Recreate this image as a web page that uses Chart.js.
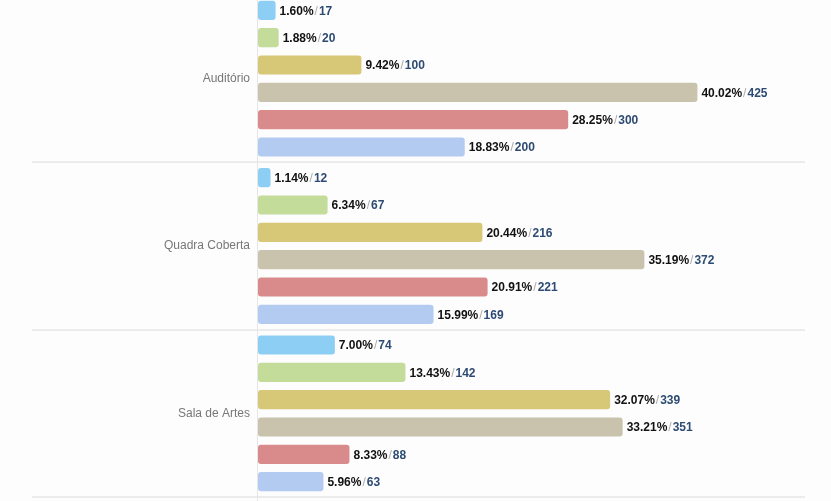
<!DOCTYPE html>
<html>
<head>
<meta charset="utf-8">
<script src="https://cdn.jsdelivr.net/npm/chart.js@4"></script>
<style>
  html, body { margin: 0; padding: 0; background: #fdfdfd; overflow: hidden; }
  .wrap { position: relative; width: 831px; height: 512px; margin-top: -5px; }
</style>
</head>
<body>
<div class="wrap"><canvas id="chart"></canvas></div>
<script>
const categories = ['Auditório', 'Quadra Coberta', 'Sala de Artes'];
const seriesNames = ['Série 1', 'Série 2', 'Série 3', 'Série 4', 'Série 5', 'Série 6'];
const colors = ['#8dcff4', '#c3dc99', '#d7c878', '#c9c3ae', '#d98b8b', '#b4cbf1'];

// percent per category, one array per series
const pct1 = [1.60, 1.14, 7.00];
const pct2 = [1.88, 6.34, 13.43];
const pct3 = [9.42, 20.44, 32.07];
const pct4 = [40.02, 35.19, 33.21];
const pct5 = [28.25, 20.91, 8.33];
const pct6 = [18.83, 15.99, 5.96];

// counts shown after the slash
const cnt1 = [17, 12, 74];
const cnt2 = [20, 67, 142];
const cnt3 = [100, 216, 339];
const cnt4 = [425, 372, 351];
const cnt5 = [300, 221, 88];
const cnt6 = [200, 169, 63];

const xMax = 50;

const pcts = [pct1, pct2, pct3, pct4, pct5, pct6];
const counts = [cnt1, cnt2, cnt3, cnt4, cnt5, cnt6];

// draws "xx.xx% / n" at the end of each bar
const valueLabels = {
  id: 'valueLabels',
  afterDatasetsDraw(chart) {
    const ctx = chart.ctx;
    ctx.save();
    ctx.font = 'bold 12px "Liberation Sans", Arial, sans-serif';
    ctx.textBaseline = 'middle';
    chart.data.datasets.forEach((ds, i) => {
      chart.getDatasetMeta(i).data.forEach((bar, j) => {
        let x = bar.x + 4;
        const y = bar.y + 1;
        const p = pcts[i][j].toFixed(2) + '%';
        ctx.fillStyle = '#111';
        ctx.fillText(p, x, y);
        x += ctx.measureText(p).width + 1;
        ctx.font = '12px "Liberation Sans", Arial, sans-serif';
        ctx.fillStyle = '#aaa';
        ctx.fillText('/', x, y);
        x += ctx.measureText('/').width + 1;
        ctx.font = 'bold 12px "Liberation Sans", Arial, sans-serif';
        ctx.fillStyle = '#2d4b72';
        ctx.fillText(String(counts[i][j]), x, y);
      });
    });
    ctx.restore();
  }
};

// category separators run from the far left to the right edge of the plot
const separators = {
  id: 'separators',
  beforeDatasetsDraw(chart) {
    const ctx = chart.ctx;
    const yScale = chart.scales.y;
    const area = chart.chartArea;
    ctx.save();
    ctx.strokeStyle = '#ececec';
    ctx.lineWidth = 2;
    for (let k = 0; k <= categories.length; k++) {
      const y = Math.round(yScale.getPixelForValue(k - 0.5));
      ctx.beginPath();
      ctx.moveTo(32, y);
      ctx.lineTo(area.right - 2, y);
      ctx.stroke();
    }
    ctx.strokeStyle = '#e6e6e6';
    ctx.lineWidth = 1;
    ctx.beginPath();
    ctx.moveTo(area.left - 0.5, area.top);
    ctx.lineTo(area.left - 0.5, area.bottom + 6);
    ctx.stroke();
    ctx.restore();
  }
};

const ctx = document.getElementById('chart');

new Chart(ctx, {
  type: 'bar',
  data: {
    labels: categories,
    datasets: seriesNames.map((name, i) => ({
      label: name,
      data: pcts[i],
      backgroundColor: colors[i],
      borderRadius: 3,
      borderSkipped: false,
      barPercentage: 0.7,
      categoryPercentage: 0.98
    }))
  },
  options: {
    indexAxis: 'y',
    responsive: true,
    maintainAspectRatio: false,
    animation: false,
    layout: {
      autoPadding: false,
      padding: { top: 0, right: 24, bottom: 10, left: 0 }
    },
    scales: {
      x: {
        min: 0,
        max: xMax,
        display: false
      },
      y: {
        grid: { display: false, drawTicks: false },
        border: { display: false },
        ticks: {
          padding: 8,
          color: '#777',
          font: { size: 12, family: '"Liberation Sans", Arial, sans-serif' }
        },
        afterFit(scale) {
          scale.width = 258;
          scale.paddingTop = 0;
          scale.paddingBottom = 0;
        }
      }
    },
    plugins: {
      legend: { display: false },
      tooltip: { enabled: false }
    }
  },
  plugins: [separators, valueLabels]
});
</script>
</body>
</html>
